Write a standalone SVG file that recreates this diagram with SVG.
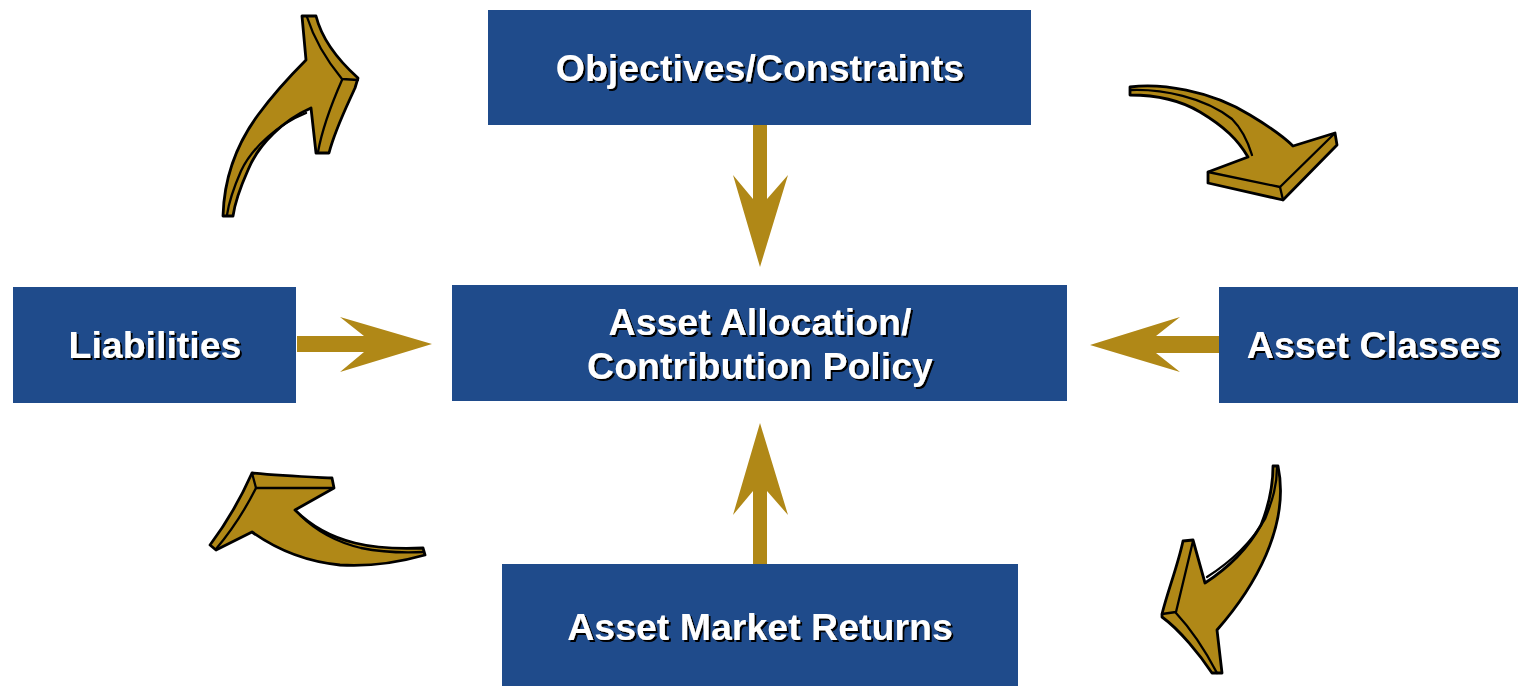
<svg xmlns="http://www.w3.org/2000/svg" width="1518" height="686" viewBox="0 0 1518 686">
  <style>
    .box { fill: #1f4b8b; }
    .label { fill: #ffffff; font-family: "Liberation Sans", Arial, sans-serif; font-weight: bold; font-size: 37.5px; text-anchor: middle; filter: url(#shadow); }
    .flow { fill: #b08817; stroke: none; }
    .curl { fill: #b08817; stroke: #000000; stroke-width: 2.8; stroke-linejoin: round; stroke-linecap: round; }
    .edge { fill: none; stroke: #000000; stroke-width: 2.3; stroke-linejoin: round; stroke-linecap: round; }
  </style>
  <defs>
    <filter id="shadow" x="-10%" y="-30%" width="120%" height="160%">
      <feDropShadow dx="2" dy="2" stdDeviation="0.6" flood-color="#000000" flood-opacity="1"/>
    </filter>
  </defs>
  <rect width="1518" height="686" fill="#ffffff"/>

  <!-- nodes -->
  <g id="objectives">
    <rect class="box" x="488" y="10" width="543" height="115"/>
    <text class="label" x="760" y="81">Objectives/Constraints</text>
  </g>
  <g id="allocation">
    <rect class="box" x="452" y="285" width="615" height="116"/>
    <text class="label" x="760" y="335">Asset Allocation/</text>
    <text class="label" x="760" y="379">Contribution Policy</text>
  </g>
  <g id="liabilities">
    <rect class="box" x="13" y="287" width="283" height="116"/>
    <text class="label" x="155" y="358">Liabilities</text>
  </g>
  <g id="asset-classes">
    <rect class="box" x="1219" y="287" width="299" height="116"/>
    <text class="label" x="1374" y="358">Asset Classes</text>
  </g>
  <g id="market-returns">
    <rect class="box" x="502" y="564" width="516" height="122"/>
    <text class="label" x="760" y="640">Asset Market Returns</text>
  </g>

  <!-- connectors -->
  <g id="connectors">
    <!-- straight flows into the central policy box -->
    <polygon class="flow" points="753,125 767,125 767,199 788,175 760,267 733,175 753,199"/>
    <polygon class="flow" points="753,564 767,564 767,491 788,515 760,423 733,515 753,491"/>
    <polygon class="flow" points="297,336 364,336 340,317 432,344 340,372 364,352 297,352"/>
    <polygon class="flow" points="1219,336 1156,336 1180,317 1090,345 1180,372 1156,353 1219,353"/>

    <!-- curled cycle arrows -->
    <g id="curl-top-left">
      <path class="curl" d="M 223,216 C 224,180 236,145 258,115 C 272,96 290,76 306,60 L 302,16 L 316,16 C 322,40 338,60 358,78 L 355,88 C 345,110 335,130 329,153 L 316,153 L 311,108 C 284,120 259,143 248,170 C 240,188 235,202 233,216 Z"/>
      <path class="edge" d="M 307,17 C 315,42 328,62 342,79 L 358,80"/>
      <path class="edge" d="M 342,80 C 331,105 322,130 318,152"/>
      <path class="edge" d="M 306,113 C 279,124 253,146 241,171 C 234,187 229,201 227,215"/>
    </g>
    <g id="curl-top-right">
      <path class="curl" d="M 1130,87 C 1160,83 1210,90 1250,115 C 1270,127 1285,138 1293,146 L 1335,133 L 1337,145 L 1283,200 L 1208,183 L 1208,172 L 1248,157 C 1238,140 1225,127 1200,112 C 1180,100 1155,95 1130,95 Z"/>
      <path class="edge" d="M 1334,134 L 1280,187 L 1208,172"/>
      <path class="edge" d="M 1280,187 L 1283,200"/>
      <path class="edge" d="M 1131,90 C 1162,89 1204,97 1232,119 C 1242,129 1248,142 1252,155"/>
    </g>
    <g id="curl-bottom-right">
      <path class="curl" d="M 1273,466 L 1278,466 C 1283,490 1281,520 1266,555 C 1256,578 1239,605 1217,630 L 1222,673 L 1212,673 C 1200,655 1180,630 1162,617 L 1162,614 C 1168,590 1178,565 1183,541 L 1193,540 L 1205,583 C 1225,570 1247,550 1261,525 C 1269,505 1273,485 1273,466 Z"/>
      <path class="edge" d="M 1162,614 L 1176,612 L 1193,541"/>
      <path class="edge" d="M 1176,613 C 1190,628 1205,650 1217,673"/>
      <path class="edge" d="M 1207,577 C 1229,563 1251,543 1265,519 C 1273,499 1277,485 1277,467"/>
    </g>
    <g id="curl-bottom-left">
      <path class="curl" d="M 252,473 C 280,476 310,477 332,478 L 334,488 L 295,510 C 310,525 330,537 355,543 C 375,548 400,549 423,548 L 425,555 C 400,562 370,567 340,565 C 310,562 280,552 252,532 L 216,550 L 210,545 C 225,525 240,500 252,473 Z"/>
      <path class="edge" d="M 252,473 L 256,488 L 333,488"/>
      <path class="edge" d="M 256,488 C 245,510 232,530 216,549"/>
      <path class="edge" d="M 300,515 C 316,531 336,542 361,548 C 386,553 405,553 424,552"/>
    </g>
  </g>
</svg>
